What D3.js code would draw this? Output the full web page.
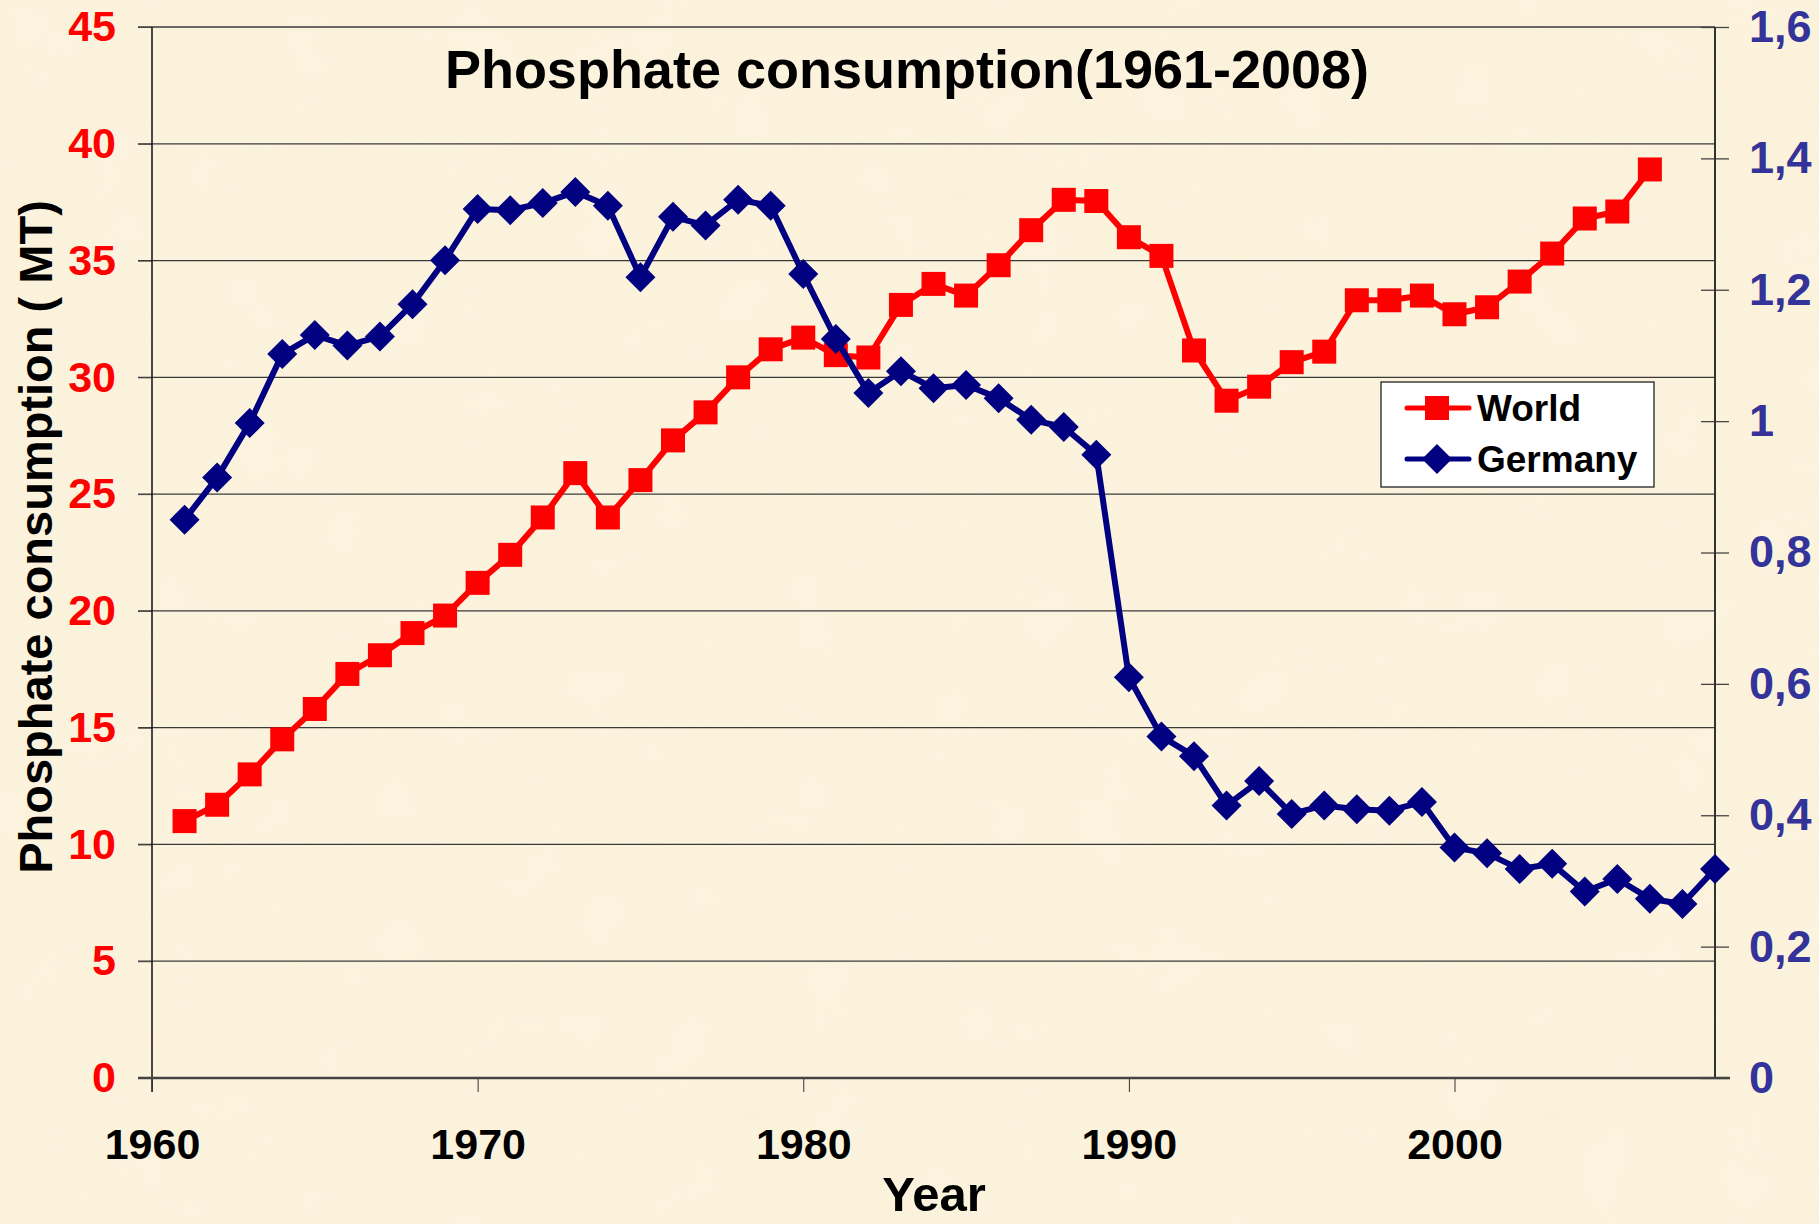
<!DOCTYPE html>
<html>
<head>
<meta charset="utf-8">
<script src="https://cdn.jsdelivr.net/npm/d3@7"></script>
<style>
  body { margin: 0; background: #fcf1da; }
  svg { display: block; }
  text { font-family: "Liberation Sans", Arial, sans-serif; font-weight: bold; }
</style>
</head>
<body>
<div id="chart"></div>
<script>
// values
const years = d3.range(1961, 2009);
const world = [11.0, 11.7, 13.0, 14.5, 15.8, 17.3, 18.1, 19.05, 19.8, 21.2,
  22.4, 24.0, 25.9, 24.0, 25.6, 27.3, 28.5, 30.0, 31.2, 31.7,
  30.95, 30.85, 33.1, 34.0, 33.5, 34.8, 36.3, 37.6, 37.55, 36.0,
  35.2, 31.15, 29.0, 29.6, 30.65, 31.1, 33.3, 33.3, 33.5, 32.7,
  33.0, 34.1, 35.3, 36.8, 37.1, 38.9, null, null];
const germany = [0.850, 0.914, 0.997, 1.102, 1.131, 1.115, 1.129, 1.178, 1.245, 1.323,
  1.321, 1.332, 1.349, 1.328, 1.219, 1.311, 1.298, 1.337, 1.328, 1.224,
  1.125, 1.043, 1.076, 1.050, 1.055, 1.035, 1.002, 0.991, 0.949, 0.610,
  0.520, 0.490, 0.415, 0.452, 0.402, 0.415, 0.409, 0.407, 0.420, 0.351,
  0.342, 0.318, 0.326, 0.284, 0.303, 0.273, 0.265, 0.318];
const leftTicks = d3.range(0, 46, 5);
const rightTicks = [0, 0.2, 0.4, 0.6, 0.8, 1, 1.2, 1.4, 1.6];
const xTicks = [1960, 1970, 1980, 1990, 2000];

const W = 1819, H = 1224;
const svg = d3.select("#chart").append("svg")
    .attr("width", W)
    .attr("height", H);

// parchment texture
const defs = svg.append("defs");
const f = defs.append("filter").attr("id", "paper").attr("x", 0).attr("y", 0).attr("width", "100%").attr("height", "100%");
f.append("feTurbulence").attr("type", "fractalNoise").attr("baseFrequency", 0.014).attr("numOctaves", 3).attr("seed", 4);
f.append("feColorMatrix").attr("values", "0 0 0 0 0.92  0 0 0 0 0.84  0 0 0 0 0.62  0 0 0 0.6 -0.15");
svg.append("rect").attr("width", W).attr("height", H).attr("fill", "#fcf3de");
svg.append("rect").attr("width", W).attr("height", H).attr("filter", "url(#paper)").attr("opacity", 0.5);

const x = d3.scaleLinear().domain([1960, 2008]).range([152, 1715]);
const yL = d3.scaleLinear().domain([0, 45]).range([1078, 27]);
const yR = d3.scaleLinear().domain([0, 1.6]).range([1078, 27]);

const bold = "Liberation Sans, Arial, sans-serif";

// gridlines
svg.append("g")
    .selectAll("line")
    .data(leftTicks.filter(d => d > 0))
    .enter()
    .append("line")
        .attr("x1", 138)
        .attr("x2", 1715)
        .attr("y1", d => yL(d))
        .attr("y2", d => yL(d))
        .attr("stroke", "#3a3a3a")
        .attr("stroke-width", 1.3);

// left axis
const leftAxis = svg.append("g")
    .attr("transform", "translate(152,0)")
    .call(d3.axisLeft(yL).tickValues(leftTicks).tickSize(14).tickPadding(22));
leftAxis.select(".domain").remove();
leftAxis.selectAll("line").attr("stroke", "#444");
leftAxis.selectAll("text")
    .attr("fill", "#ff0000")
    .attr("font-size", "43px")
    .attr("font-family", bold)
    .attr("font-weight", "bold");
svg.append("line")
    .attr("x1", 152).attr("x2", 152)
    .attr("y1", 27).attr("y2", 1092)
    .attr("stroke", "#111").attr("stroke-width", 1.5);

// right axis
const rightAxis = svg.append("g")
    .attr("transform", "translate(1715,0)")
    .call(d3.axisRight(yR).tickValues(rightTicks).tickSize(14).tickPadding(20)
        .tickFormat(d => String(+d.toFixed(1)).replace(".", ",")));
rightAxis.select(".domain").remove();
rightAxis.selectAll("line").attr("x1", -14).attr("stroke", "#444").attr("stroke-width", 1.3);
rightAxis.selectAll("text")
    .attr("fill", "#333399")
    .attr("font-size", "45px")
    .attr("font-family", bold)
    .attr("font-weight", "bold");
svg.append("line")
    .attr("x1", 1715).attr("x2", 1715)
    .attr("y1", 27).attr("y2", 1078)
    .attr("stroke", "#333").attr("stroke-width", 2);

// x axis
const xAxis = svg.append("g")
    .attr("transform", "translate(0,1078)")
    .call(d3.axisBottom(x).tickValues(xTicks).tickFormat(d3.format("d")).tickSize(14).tickPadding(36));
xAxis.select(".domain").remove();
xAxis.selectAll("line").attr("stroke", "#333");
xAxis.selectAll("text")
    .attr("fill", "#000")
    .attr("font-size", "43px")
    .attr("font-family", bold)
    .attr("font-weight", "bold");
svg.append("line")
    .attr("x1", 138).attr("x2", 1730)
    .attr("y1", 1078).attr("y2", 1078)
    .attr("stroke", "#444").attr("stroke-width", 2.5);

// World line
const worldPts = years.map((yr, i) => [yr, world[i]]).filter(d => d[1] != null);
svg.append("path")
    .datum(worldPts)
    .attr("d", d3.line().x(d => x(d[0])).y(d => yL(d[1])))
    .attr("fill", "none")
    .attr("stroke", "#ff0000")
    .attr("stroke-width", 6)
    .attr("stroke-linejoin", "round");
svg.append("g")
    .selectAll("rect")
    .data(worldPts)
    .enter()
    .append("rect")
        .attr("x", d => x(d[0]) - 12)
        .attr("y", d => yL(d[1]) - 12)
        .attr("width", 24)
        .attr("height", 24)
        .attr("fill", "#ff0000");

// Germany line
const germanyPts = years.map((yr, i) => [yr, germany[i]]);
svg.append("path")
    .datum(germanyPts)
    .attr("d", d3.line().x(d => x(d[0])).y(d => yR(d[1])))
    .attr("fill", "none")
    .attr("stroke", "#000080")
    .attr("stroke-width", 6)
    .attr("stroke-linejoin", "round");
const diamond = "M0,-15L15,0L0,15L-15,0Z";
svg.append("g")
    .selectAll("path")
    .data(germanyPts)
    .enter()
    .append("path")
        .attr("d", diamond)
        .attr("transform", d => `translate(${x(d[0])},${yR(d[1])})`)
        .attr("fill", "#000080");

// title & axis titles
svg.append("text")
    .attr("x", 907)
    .attr("y", 88)
    .attr("text-anchor", "middle")
    .attr("font-size", "54px")
    .text("Phosphate consumption(1961-2008)");

svg.append("text")
    .attr("transform", "translate(52,537) rotate(-90)")
    .attr("text-anchor", "middle")
    .attr("font-size", "47px")
    .text("Phosphate consumption ( MT)");

svg.append("text")
    .attr("x", 934)
    .attr("y", 1211)
    .attr("text-anchor", "middle")
    .attr("font-size", "49px")
    .text("Year");

// legend
const legend = svg.append("g").attr("transform", "translate(1381,382)");
legend.append("rect")
    .attr("width", 273)
    .attr("height", 105)
    .attr("fill", "#fff")
    .attr("stroke", "#222")
    .attr("stroke-width", 1.3);
const legendItems = [
  { name: "World", color: "#ff0000", shape: "square", y: 26 },
  { name: "Germany", color: "#000080", shape: "diamond", y: 77 }
];
legendItems.forEach(it => {
  legend.append("line")
      .attr("x1", 26).attr("x2", 88)
      .attr("y1", it.y).attr("y2", it.y)
      .attr("stroke", it.color).attr("stroke-width", 5)
      .attr("stroke-linecap", "round");
  if (it.shape === "square") {
    legend.append("rect")
        .attr("x", 44).attr("y", it.y - 12)
        .attr("width", 24).attr("height", 24)
        .attr("fill", it.color);
  } else {
    legend.append("path")
        .attr("d", diamond)
        .attr("transform", `translate(56,${it.y})`)
        .attr("fill", it.color);
  }
  legend.append("text")
      .attr("x", 96)
      .attr("y", it.y + 13)
      .attr("font-size", "37px")
      .text(it.name);
});
</script>
</body>
</html>
